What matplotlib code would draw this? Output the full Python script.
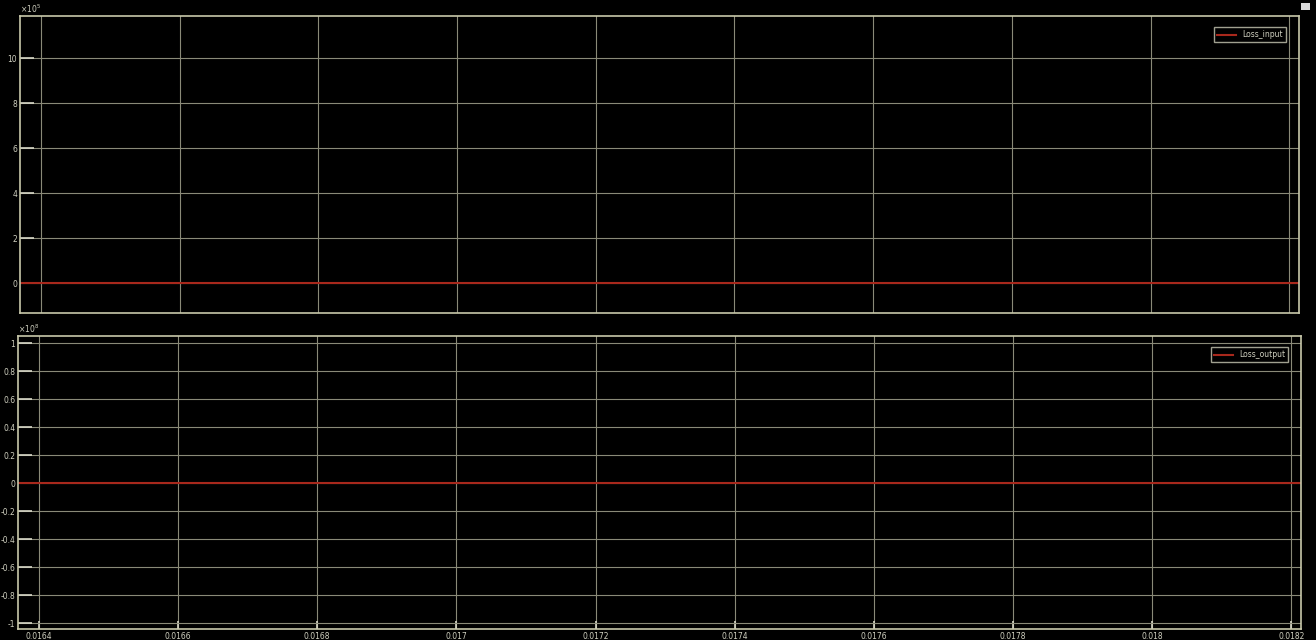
import matplotlib
matplotlib.use("Agg")
import matplotlib.pyplot as plt
from matplotlib.ticker import FixedLocator, FuncFormatter

# Simulation time window (s) and logged signals
t = [0.01637, 0.01822]
loss_input = [0.0, 0.0]
loss_output = [0.0, 0.0]

x_ticks = [0.0164, 0.0166, 0.0168, 0.017, 0.0172, 0.0174, 0.0176, 0.0178, 0.018, 0.0182]
x_tick_labels = ["0.0164", "0.0166", "0.0168", "0.017", "0.0172", "0.0174",
                 "0.0176", "0.0178", "0.018", "0.0182"]
in_ticks = [0, 2e5, 4e5, 6e5, 8e5, 10e5]
out_ticks = [-1e8, -0.8e8, -0.6e8, -0.4e8, -0.2e8, 0, 0.2e8, 0.4e8, 0.6e8, 0.8e8, 1e8]

BG = "black"
GRID = "#8a8a78"
SPINE = "#c8c8aa"
TEXT = "#d0d0c0"
TRACE = "#a8281c"

fig = plt.figure(figsize=(13.16, 6.4), dpi=100, facecolor=BG)
ax1 = fig.add_axes([0.0152, 0.511, 0.9719, 0.464])
ax2 = fig.add_axes([0.0137, 0.0172, 0.9749, 0.4578])


def tick_text(v, scale):
    s = f"{v / scale:.1f}".rstrip("0").rstrip(".")
    return "0" if s in ("-0", "0") else s


def style(ax, ylim, yticks, scale, exp, show_x):
    ax.set_facecolor(BG)
    ax.set_xlim(0.01637, 0.018214)
    ax.set_ylim(*ylim)
    ax.xaxis.set_major_locator(FixedLocator(x_ticks))
    ax.yaxis.set_major_locator(FixedLocator(yticks))
    if show_x:
        ax.set_xticklabels(x_tick_labels)
    else:
        ax.set_xticklabels([])
    ax.yaxis.set_major_formatter(FuncFormatter(lambda v, p: tick_text(v, scale)))
    ax.grid(True, color=GRID, linewidth=0.8)
    ax.tick_params(direction="in", length=10, width=1.2, color="#d8d8c8",
                   labelcolor=TEXT, labelsize=5.5, pad=2)
    ax.tick_params(axis="x", pad=2, length=6 if show_x else 0)
    for s in ax.spines.values():
        s.set_color(SPINE)
        s.set_linewidth(1.2)
    ax.text(0.0, 1.004, r"$\times10^{%d}$" % exp, transform=ax.transAxes,
            color=TEXT, fontsize=5.5, ha="left", va="bottom")


style(ax1, (-1.33e5, 11.87e5), in_ticks, 1e5, 5, False)
style(ax2, (-1.04e8, 1.05e8), out_ticks, 1e8, 8, True)

ax1.plot(t, loss_input, color=TRACE, linewidth=1.5, label="Loss_input")
ax2.plot(t, loss_output, color=TRACE, linewidth=1.5, label="Loss_output")

for ax in (ax1, ax2):
    leg = ax.legend(loc="upper right", fontsize=5.5, facecolor=BG, edgecolor="#a0a090",
                    fancybox=False, framealpha=1, handlelength=2.5,
                    bbox_to_anchor=(0.993, 0.975), borderpad=0.4)
    for txt in leg.get_texts():
        txt.set_color(TEXT)
    leg.get_frame().set_linewidth(1.0)

# small dock icon in the window corner
fig.patches.append(plt.Rectangle((0.9885, 0.984), 0.007, 0.011, transform=fig.transFigure,
                                 facecolor="#d8d8d8", edgecolor="none"))

fig.savefig("out.png", dpi=100, facecolor=BG)
